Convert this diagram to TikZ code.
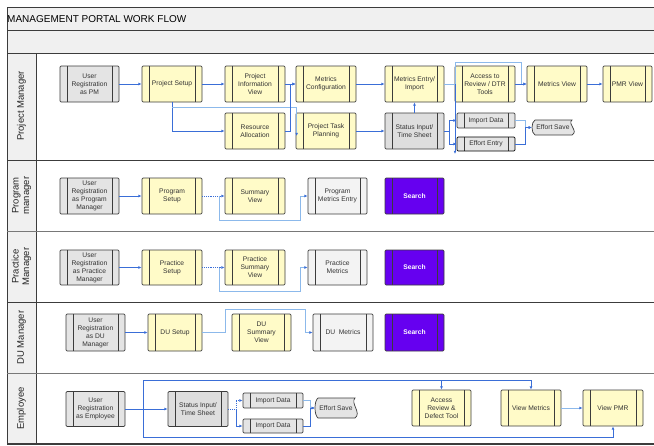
\documentclass[tikz,border=0pt]{standalone}
\usepackage{fontspec}
\setmainfont{Liberation Sans}
\usetikzlibrary{arrows.meta}

\definecolor{boxyellow}{RGB}{255,251,200}
\definecolor{boxgray}{RGB}{228,228,228}
\definecolor{boxlight}{RGB}{243,243,243}
\definecolor{boxstatus}{RGB}{222,222,222}
\definecolor{searchpurple}{RGB}{102,0,240}
\definecolor{connblue}{RGB}{58,110,215}
\definecolor{connlight}{RGB}{140,185,235}
\definecolor{bandgray}{RGB}{240,240,240}
\definecolor{edgegray}{RGB}{60,60,60}
\definecolor{sepgray}{RGB}{120,120,120}

\tikzset{
  procbox/.style={draw=edgegray, line width=0.7pt, rounded corners=1.2pt, align=center,
    inner sep=0pt, font=\fontsize{6.7}{8}\selectfont, text=black!80,
    minimum width=60pt, minimum height=36pt,
    path picture={\draw[edgegray, line width=0.8pt, sharp corners]
      ([xshift=7pt]path picture bounding box.south west) -- ([xshift=7pt]path picture bounding box.north west)
      ([xshift=-7pt]path picture bounding box.south east) -- ([xshift=-7pt]path picture bounding box.north east);}},
  ybox/.style={procbox, fill=boxyellow},
  gbox/.style={procbox, fill=boxgray},
  lbox/.style={procbox, fill=boxlight},
  sbox/.style={procbox, fill=boxstatus},
  pbox/.style={procbox, fill=searchpurple, text=white, font=\fontsize{6.7}{8}\selectfont\bfseries},
  savetext/.style={inner sep=0pt, font=\fontsize{6.7}{8}\selectfont, text=black!80},
  savebox/.style={fill=boxgray, draw=edgegray, line width=0.7pt},
  conn/.style={draw=connblue, line width=0.8pt, -{Latex[length=3.2pt,width=2.8pt]}},
  lconn/.style={draw=connlight, line width=0.9pt, -{Latex[length=3.2pt,width=2.8pt,fill=connblue,color=connblue]}},
  lanelabel/.style={rotate=90, align=center, font=\fontsize{9.5}{10.5}\selectfont, text=black!85, inner sep=0pt},
  darksep/.style={draw=edgegray, line width=1.2pt},
  lightsep/.style={draw=sepgray, line width=1.2pt}
}

\begin{document}
\begin{tikzpicture}[x=1pt,y=-1pt]
\useasboundingbox (0,0) rectangle (654,445);

% bands and frame
\fill[bandgray] (7,7) rectangle (654,53);
\fill[bandgray] (7,53) rectangle (36,444);
\draw[edgegray, line width=0.9pt] (654,7) -- (7,7) -- (7,444);
\draw[edgegray, line width=0.9pt] (7,30) -- (654,30);
\draw[edgegray, line width=1pt] (7,53) -- (654,53);
\draw[edgegray, line width=0.9pt] (36,53) -- (36,444);
\draw[darksep] (7,160.5) -- (654,160.5);
\draw[lightsep] (7,231.5) -- (654,231.5);
\draw[darksep] (7,302.5) -- (654,302.5);
\draw[lightsep] (7,373.5) -- (654,373.5);
\draw[darksep] (7,444) -- (654,444);

\node[anchor=west, font=\fontsize{10}{12}\selectfont, inner sep=0.5pt] (title) at (6.5,19) {MANAGEMENT PORTAL WORK FLOW};

% lane labels
\node[lanelabel] (lpm) at (21.5,106) {Project Manager};
\node[lanelabel] (lpg) at (21.5,195.5) {Program\\manager};
\node[lanelabel] (lpr) at (21.5,266.5) {Practice\\Manager};
\node[lanelabel] (ldu) at (21.5,337.5) {DU Manager};
\node[lanelabel] (lem) at (21.5,408.5) {Employee};

% ---------------- Project Manager lane
\node[gbox, minimum width=59pt] (pm1) at (89.5,84) {User\\Registration\\as PM};
\node[ybox] (pm2) at (172,84) {Project Setup};
\node[ybox] (pm3) at (255,84) {Project\\Information\\View};
\node[ybox] (pm4) at (326,84) {Metrics\\Configuration};
\node[ybox, minimum width=59pt] (pm5) at (414.5,84) {Metrics Entry/\\Import};
\node[ybox] (pm6) at (485,84) {Access to\\Review / DTR\\Tools};
\node[ybox] (pm7) at (557,84) {Metrics View};
\node[ybox, minimum width=49pt] (pm8) at (627.5,84) {PMR View};
\node[ybox] (pm9) at (255,131) {Resource\\Allocation};
\node[ybox] (pm10) at (326,131) {Project Task\\Planning};
\node[sbox, minimum width=59pt] (pm11) at (414.5,131) {Status Input/\\Time Sheet};
\node[gbox, minimum width=58pt, minimum height=15pt] (pm12) at (486,120.5) {Import Data};
\node[gbox, minimum width=58pt, minimum height=14pt, draw=black] (pm13) at (486,144) {Effort Entry};
\filldraw[savebox] (535,120) -- (572,120) .. controls (567,124) and (579,131) .. (572,135) -- (535,135) .. controls (531,133) and (531,122) .. (535,120) -- cycle;
\node[savetext, minimum width=42pt, minimum height=15pt] (pm14) at (553,127.5) {Effort Save};

\draw[conn] (pm1) -- (pm2);
\draw[conn] (pm2) -- (pm3);
\draw[conn] (pm2.south) |- (pm9.west);
\draw[lconn] ([yshift=-5pt]pm2.south) -| ([xshift=1pt,yshift=-5pt]pm10.west);
\draw[conn] (pm3) -- (pm4);
\draw[conn] (pm9.east) -- (290,131) |- (pm4.west);
\draw[conn] (pm4) -- (pm5);
\draw[conn] (pm10) -- (pm11);
\draw[conn] (pm11) -- (pm5);
\draw[connlight, line width=0.9pt] (pm5.east) -- (455,84);
\draw[lconn] (455,84) -- (455,62) -- (521,62) |- (pm7.west);
\draw[conn] (455,84) -- (455,154);
\draw[conn] (pm6) -- (pm7);
\draw[conn] (pm7) -- (pm8);
\draw[conn] (pm11.east) -- (449,131) |- (pm12.west);
\draw[conn] (449,131) |- (pm13.west);
\draw[lconn] (pm12.east) -- (525,120.5) |- (pm14.west);
\draw[conn] (pm13.east) -- (525,144) |- (pm14.west);

% ---------------- Program manager lane
\node[gbox, minimum width=59pt] (pg1) at (89.5,196) {User\\Registration\\as Program\\Manager};
\node[ybox] (pg2) at (172,196) {Program\\Setup};
\node[ybox] (pg3) at (255,196) {Summary\\View};
\node[lbox, minimum width=59pt] (pg4) at (337.5,196) {Program\\Metrics Entry};
\node[pbox, minimum width=59pt] (pg5) at (414.5,196) {Search};

\draw[conn] (pg1) -- (pg2);
\draw[conn, densely dotted] (pg2) -- (pg3);
\draw[lconn] ([xshift=17pt]pg2.east) |- (300,220) |- (pg4.west);

% ---------------- Practice manager lane
\node[gbox, minimum width=59pt, minimum height=35pt] (pr1) at (89.5,267.5) {User\\Registration\\as Practice\\Manager};
\node[ybox, minimum height=35pt] (pr2) at (172,267.5) {Practice\\Setup};
\node[ybox, minimum height=35pt] (pr3) at (255,267.5) {Practice\\Summary\\View};
\node[lbox, minimum width=59pt, minimum height=35pt] (pr4) at (337.5,267.5) {Practice\\Metrics};
\node[pbox, minimum width=59pt, minimum height=35pt] (pr5) at (414.5,267.5) {Search};

\draw[conn] (pr1) -- (pr2);
\draw[conn, densely dotted] (pr2) -- (pr3);
\draw[lconn] ([xshift=17pt]pr2.east) |- (300,291) |- (pr4.west);

% ---------------- DU manager lane
\node[gbox, minimum width=59pt, minimum height=37pt] (du1) at (95.5,332.5) {User\\Registration\\as DU\\Manager};
\node[ybox, minimum width=54pt, minimum height=37pt] (du2) at (175,332.5) {DU Setup};
\node[ybox, minimum width=59pt, minimum height=37pt] (du3) at (261.5,332.5) {DU\\Summary\\View};
\node[lbox, minimum height=37pt] (du4) at (343,332.5) {DU\ \ Metrics};
\node[pbox, minimum width=59pt, minimum height=37pt] (du5) at (414.5,332.5) {Search};

\draw[conn] (du1) -- (du2);
\draw[lconn] (du2.east) -- (225,332.5) |- (305,309) |- (du4.west);

% ---------------- Employee lane
\coordinate (etop) at (0,380.5);
\coordinate (ebot) at (0,437);
\node[gbox, minimum width=59pt, minimum height=35pt] (e1) at (95.5,409) {User\\Registration\\as Employee};
\node[sbox, minimum height=35pt] (e2) at (198,409) {Status Input/\\Time Sheet};
\node[gbox, minimum height=15pt] (e3) at (273,400.5) {Import Data};
\node[gbox, minimum height=14pt] (e4) at (273,426) {Import Data};
\filldraw[savebox] (318,398) -- (355,398) .. controls (350,403) and (362,413) .. (355,418) -- (318,418) .. controls (314,415) and (314,401) .. (318,398) -- cycle;
\node[savetext, minimum width=42pt, minimum height=20pt] (e5) at (336,408) {Effort Save};
\node[ybox, minimum width=59pt] (e6) at (441.5,408) {Access\\Review \&\\Defect Tool};
\node[ybox] (e7) at (531,408) {View Metrics};
\node[ybox] (e8) at (613,408) {View PMR};

\draw[conn] (e1) -- (e2);
\draw[conn] ([xshift=18pt]e1.east) |- (e7.north |- etop) -- (e7.north);
\draw[conn] (e6.north |- etop) -- (e6.north);
\draw[conn] ([xshift=18pt]e1.east) |- (e8.south |- ebot) -- (e8.south);
\draw[conn, densely dotted] (e2.east) -- (236,409) |- (e3.west);
\draw[conn] (236,409) |- (e4.west);
\draw[lconn] (e3.east) -- (310,400.5) |- (e5.west);
\draw[conn] (e4.east) -- (310,426) |- (e5.west);
\draw[lconn] (e7) -- (e8);

\end{tikzpicture}
\end{document}
